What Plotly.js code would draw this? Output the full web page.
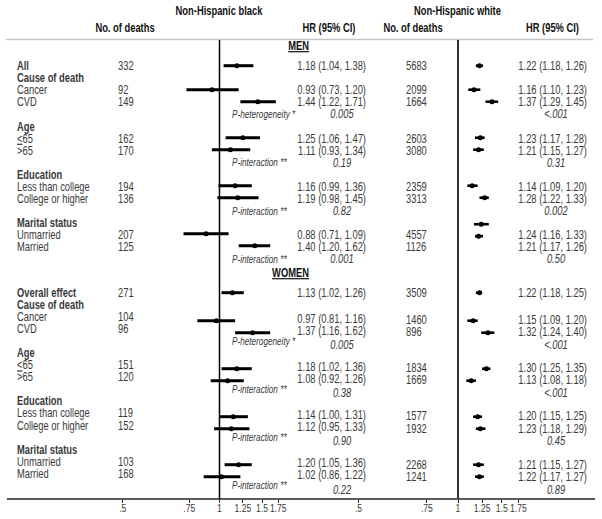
<!DOCTYPE html>
<html><head><meta charset="utf-8">
<script src="https://cdn.plot.ly/plotly-3.0.1.min.js"></script>
<style>html,body{margin:0;padding:0;background:#fff}#chart{width:602px;height:519px}</style>
</head><body><div id="chart"></div>
<script>
// ---------------- data ----------------
const rowKinds = ['est','head','est','est','p','head','est','est','p','head','est','est','p','head','est','est','p'];
const menEstLabels = ['All','Cancer','CVD','<u>&lt;</u>65','&gt;65','Less than college','College or higher','Unmarried','Married'];
const womenEstLabels = ['Overall effect','Cancer','CVD','<u>&lt;</u>65','&gt;65','Less than college','College or higher','Unmarried','Married'];
const groupHeaders = ['Cause of death','Age','Education','Marital status'];
const pLabels = ['P-heterogeneity *','P-interaction **','P-interaction **','P-interaction **'];
const sexLabels = ['MEN','WOMEN'];
const panelTitles = ['Non-Hispanic black','Non-Hispanic white'];

const menBlackDeaths = [332,92,149,162,170,194,136,207,125];
const menBlackHR = [1.18,0.93,1.44,1.25,1.11,1.16,1.19,0.88,1.40];
const menBlackLo = [1.04,0.73,1.22,1.06,0.93,0.99,0.98,0.71,1.20];
const menBlackHi = [1.38,1.20,1.71,1.47,1.34,1.36,1.45,1.09,1.62];
const menBlackP = ['0.005','0.19','0.82','0.001'];
const menWhiteDeaths = [5683,2099,1664,2603,3080,2359,3313,4557,1126];
const menWhiteHR = [1.22,1.16,1.37,1.23,1.21,1.14,1.28,1.24,1.21];
const menWhiteLo = [1.18,1.10,1.29,1.17,1.15,1.09,1.22,1.16,1.17];
const menWhiteHi = [1.26,1.23,1.45,1.28,1.27,1.20,1.33,1.33,1.26];
const menWhiteP = ['<.001','0.31','0.002','0.50'];

const womenBlackDeaths = [271,104,96,151,120,119,152,103,168];
const womenBlackHR = [1.13,0.97,1.37,1.18,1.08,1.14,1.12,1.20,1.02];
const womenBlackLo = [1.02,0.81,1.16,1.02,0.92,1.00,0.95,1.05,0.86];
const womenBlackHi = [1.26,1.16,1.62,1.36,1.26,1.31,1.33,1.36,1.22];
const womenBlackP = ['0.005','0.38','0.90','0.22'];
const womenWhiteDeaths = [3509,1460,896,1834,1669,1577,1932,2268,1241];
const womenWhiteHR = [1.22,1.15,1.32,1.30,1.13,1.20,1.23,1.21,1.22];
const womenWhiteLo = [1.18,1.09,1.24,1.25,1.08,1.15,1.18,1.15,1.17];
const womenWhiteHi = [1.25,1.20,1.40,1.35,1.18,1.25,1.29,1.27,1.27];
const womenWhiteP = ['<.001','<.001','0.45','0.89'];

// axis tick labels (the reference draws ".5" at this place on its scale)
const tickVals = [0.398, 0.75, 1, 1.25, 1.5, 1.75];
const tickText = ['.5','.75','1','1.25','1.5','1.75'];

// ---------------- layout helpers ----------------
const W = 602, H = 519;
const FONT = '"Liberation Sans",Arial,sans-serif';
const FS = 12;
const SQUEEZE = 0.78;   // reference typeface is a narrow sans
const DARK = '#3a3a3a', BLACK = '#111';
const esc = s => String(s).replace(/</g,'&lt;').replace(/>/g,'&gt;');
const fmt = v => v.toFixed(2);

const sections = [
  {est:menEstLabels, sex:sexLabels[0], sexY:47, base:67.3, step:12.05, barBase:65.7, colShift:0,
   bD:menBlackDeaths, bHR:menBlackHR, bLo:menBlackLo, bHi:menBlackHi, bP:menBlackP,
   wD:menWhiteDeaths, wHR:menWhiteHR, wLo:menWhiteLo, wHi:menWhiteHi, wP:menWhiteP,
   wBarShift:i => (i>=13 ? -9.5 : 0), barShift:i => 0},
  {est:womenEstLabels, sex:sexLabels[1], sexY:274, base:294, step:12.05, barBase:296.7, colShift:3,
   bD:womenBlackDeaths, bHR:womenBlackHR, bLo:womenBlackLo, bHi:womenBlackHi, bP:womenBlackP,
   wD:womenWhiteDeaths, wHR:womenWhiteHR, wLo:womenWhiteLo, wHi:womenWhiteHi, wP:womenWhiteP,
   wBarShift:i => (i===0 ? -4 : 0), barShift:i => (i===0 ? -4 : 0)}
];

const cols = {
  label:{x:[],y:[],t:[]}, pLab:{x:[],y:[],t:[]}, bD:{x:[],y:[],t:[]}, bHR:{x:[],y:[],t:[]},
  bP:{x:[],y:[],t:[]}, wD:{x:[],y:[],t:[]}, wHR:{x:[],y:[],t:[]}, wP:{x:[],y:[],t:[]}, sex:{x:[],y:[],t:[]}
};
const bMk = {x:[],y:[],plus:[],minus:[]}, wMk = {x:[],y:[],plus:[],minus:[]};
function push(c, x, y, t){ c.x.push(x); c.y.push(y); c.t.push(t); }

sections.forEach(s => {
  push(cols.sex, 309, s.sexY, '<b><u>'+s.sex+'</u></b>');
  let e = 0, h = 0, p = 0;
  rowKinds.forEach((k, i) => {
    const ty = s.base + s.step*i;
    const sh = i===0 ? 0 : s.colShift;
    if (k === 'est') {
      const lab = e===0 ? '<b>'+s.est[e]+'</b>' : s.est[e];
      push(cols.label, 17, ty, lab);
      push(cols.bD, 118, ty, String(s.bD[e]));
      push(cols.bHR, 366, ty + sh*0.5, fmt(s.bHR[e])+' ('+fmt(s.bLo[e])+', '+fmt(s.bHi[e])+')');
      push(cols.wD, 406, ty + sh, String(s.wD[e]));
      push(cols.wHR, 587, ty + sh, fmt(s.wHR[e])+' ('+fmt(s.wLo[e])+', '+fmt(s.wHi[e])+')');
      const by = s.barBase + 12*i;
      bMk.x.push(s.bHR[e]); bMk.y.push(by + s.barShift(i));
      bMk.plus.push(s.bHi[e]-s.bHR[e]); bMk.minus.push(s.bHR[e]-s.bLo[e]);
      wMk.x.push(s.wHR[e]); wMk.y.push(by + s.wBarShift(i));
      wMk.plus.push(s.wHi[e]-s.wHR[e]); wMk.minus.push(s.wHR[e]-s.wLo[e]);
      e++;
    } else if (k === 'head') {
      push(cols.label, 17, ty, '<b>'+groupHeaders[h]+'</b>');
      h++;
    } else {
      push(cols.pLab, 232, ty, '<i>'+pLabels[p]+'</i>');
      push(cols.bP, 342, ty + sh*1.3, '<i>'+esc(s.bP[p])+'</i>');
      push(cols.wP, 556, ty + sh*1.3, '<i>'+esc(s.wP[p])+'</i>');
      p++;
    }
  });
});

// headers
const hdr = {x:[],y:[],t:[]};
push(hdr, 219, 12, '<b>'+panelTitles[0]+'</b>');
push(hdr, 457.5, 12, '<b>'+panelTitles[1]+'</b>');
push(hdr, 125, 29, '<b>No. of deaths</b>');
push(hdr, 329, 29, '<b>HR (95% CI)</b>');
push(hdr, 413, 29, '<b>No. of deaths</b>');
push(hdr, 552.5, 29, '<b>HR (95% CI)</b>');

function textTrace(c, pos, color, size){
  return {type:'scatter', mode:'text', xaxis:'x3', yaxis:'y', x:c.x, y:c.y, text:c.t,
    textposition:pos, textfont:{family:FONT, size:size||FS, color:color},
    hoverinfo:'skip', showlegend:false, cliponaxis:false};
}
function markTrace(m, ax, thick, msize){
  return {type:'scatter', mode:'markers', xaxis:ax, yaxis:'y', x:m.x, y:m.y,
    marker:{color:'#000', size:msize, symbol:'circle'},
    error_x:{type:'data', symmetric:false, array:m.plus, arrayminus:m.minus,
      thickness:thick, width:0, color:'#000'},
    hoverinfo:'skip', showlegend:false, cliponaxis:false};
}

const data = [
  textTrace(hdr, 'middle center', BLACK, 12),
  textTrace(cols.sex, 'middle left', BLACK),
  textTrace(cols.label, 'middle right', DARK),
  textTrace(cols.pLab, 'middle right', DARK, 10.5),
  textTrace(cols.bD, 'middle right', DARK),
  textTrace(cols.bHR, 'middle left', DARK),
  textTrace(cols.bP, 'middle center', DARK),
  textTrace(cols.wD, 'middle right', DARK),
  textTrace(cols.wHR, 'middle left', DARK),
  textTrace(cols.wP, 'middle center', DARK),
  markTrace(bMk, 'x', 3, 5),
  markTrace(wMk, 'x2', 2.6, 5)
];

const axisCommon = {type:'log', anchor:'free', position:1-499/H, showgrid:false, zeroline:false,
  showline:false, ticks:'outside', ticklen:3, tickwidth:1, tickcolor:'#222', tickangle:0,
  ticklabelstandoff:-4,
  tickmode:'array', tickvals:tickVals, ticktext:tickText,
  tickfont:{family:FONT, size:11, color:DARK}, fixedrange:true};

const layout = {
  width:W, height:H, margin:{l:0,r:0,t:0,b:0},
  paper_bgcolor:'#fff', plot_bgcolor:'rgba(0,0,0,0)', showlegend:false,
  xaxis: Object.assign({}, axisCommon, {domain:[100/W, 300/W],
    range:[(100-219.5)/241.8, (300-219.5)/241.8]}),
  xaxis2: Object.assign({}, axisCommon, {domain:[340/W, 590/W],
    range:[(340-458)/248.7, (590-458)/248.7]}),
  xaxis3: {domain:[0,1], range:[0,W], visible:false, fixedrange:true},
  yaxis: {domain:[0,1], range:[H,0], visible:false, anchor:'x3', fixedrange:true},
  shapes:[
    {type:'line', xref:'x3', yref:'y', x0:6, x1:593, y0:39.5, y1:39.5, line:{color:'#c4c4c4', width:1.5}},
    {type:'line', xref:'x3', yref:'y', x0:7, x1:595, y0:499, y1:499, line:{color:'#222', width:1.3}},
    {type:'line', xref:'x', yref:'y', x0:1, x1:1, y0:40, y1:499, line:{color:'#000', width:1.5}},
    {type:'line', xref:'x2', yref:'y', x0:1, x1:1, y0:40, y1:499, line:{color:'#333', width:2}}
  ]
};

// narrow the typeface horizontally about each text's own anchor point
function squeezeText(){
  document.querySelectorAll('#chart svg text').forEach(t => {
    if (t.getAttribute('data-sq')) return;
    const x = parseFloat(t.getAttribute('x')) || 0;
    const tr = t.getAttribute('transform') || '';
    t.setAttribute('transform', (tr + ' translate(' + (x*(1-SQUEEZE)) + ',0) scale(' + SQUEEZE + ',1)').trim());
    t.setAttribute('data-sq', '1');
  });
}

Plotly.newPlot('chart', data, layout, {staticPlot:true, displayModeBar:false}).then(squeezeText);
</script>
</body></html>
